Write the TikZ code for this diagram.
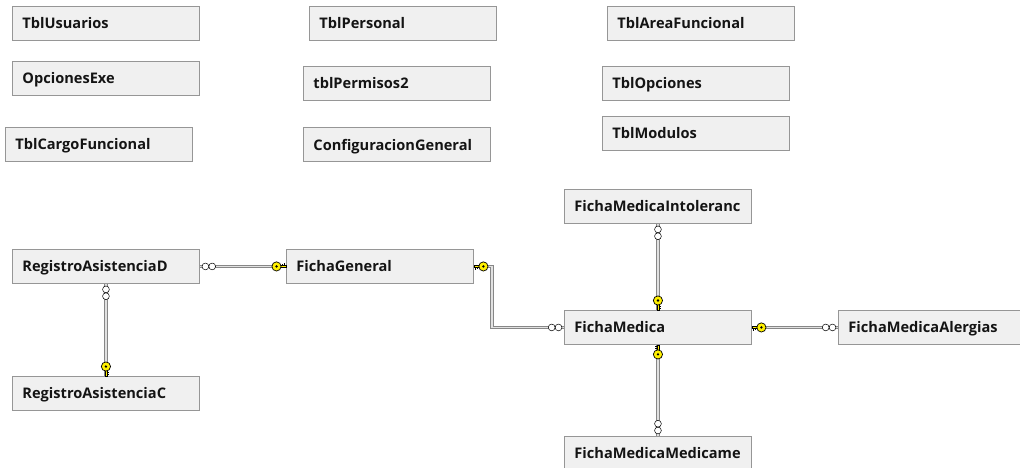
\documentclass[tikz,border=0pt]{standalone}
\usepackage{fontspec}
\setmainfont{Open Sans}
\definecolor{boxfill}{RGB}{240,240,240}
\definecolor{boxline}{RGB}{150,150,150}
\definecolor{txt}{RGB}{20,20,20}
\definecolor{keyyel}{RGB}{255,240,0}
\definecolor{relline}{RGB}{135,135,135}
\definecolor{relin}{RGB}{225,225,225}
\begin{document}
\begin{tikzpicture}[x=1pt,y=1pt,
  tbl/.style={draw=boxline,fill=boxfill,line width=0.9pt,anchor=north west,
    text width=167pt,align=left,inner xsep=10pt,inner ysep=0pt,minimum height=34pt,
    text depth=0pt,
    font=\fontsize{14.6}{16}\selectfont\bfseries,text=txt},
  rel/.style={draw=relline,line width=0.8pt,double=relin,double distance=1.6pt},
  keyend/.pic={
    \draw[fill=keyyel,draw=black,line width=0.5pt] (0,-1.2) rectangle (6,1.2);
    \draw[black,line width=0.7pt] (1.5,-1.2) -- (1.5,-3.2) (3.5,-1.2) -- (3.5,-2.7);
    \draw[fill=keyyel,draw=black,line width=0.7pt] (9.5,0) circle (4.6);
    \fill[black] (9.5,0) circle (1.3);
  },
  manyend/.pic={
    \draw[fill=white,draw=black,line width=0.5pt] (5.5,0) circle (3.4);
    \draw[fill=white,draw=black,line width=0.5pt] (12.3,0) circle (3.4);
  }]
\useasboundingbox (0,0) rectangle (1020,-468);
\fill[white] (0,0) rectangle (1020,-468);

% tables
\node[tbl] (usu) at (12,-6) {TblUsuarios};
\node[tbl] (opx) at (12,-61) {OpcionesExe};
\node[tbl] (car) at (5,-127) {TblCargoFuncional};
\node[tbl] (per) at (309,-6) {TblPersonal};
\node[tbl] (prm) at (303,-66) {tblPermisos2};
\node[tbl] (cfg) at (303,-127) {ConfiguracionGeneral};
\node[tbl] (are) at (607,-6) {TblAreaFuncional};
\node[tbl] (opc) at (602,-66) {TblOpciones};
\node[tbl] (mod) at (602,-116) {TblModulos};
\node[tbl] (fmi) at (564,-189) {FichaMedicaIntoleranc};
\node[tbl] (rd) at (12,-249) {RegistroAsistenciaD};
\node[tbl] (fg) at (286,-249) {FichaGeneral};
\node[tbl] (fm) at (564,-310) {FichaMedica};
\node[tbl] (fma) at (838,-310) {FichaMedicaAlergias};
\node[tbl] (rc) at (12,-376) {RegistroAsistenciaC};
\node[tbl] (fmm) at (564,-436) {FichaMedicaMedicame};

% relations
\draw[rel] (rd.east) -- (fg.west);
\draw[rel] (fg.east) -- ++(18,0) |- (fm.west);
\draw[rel] (rd.south) -- (rc.north);
\draw[rel] (fmi.south) -- (fm.north);
\draw[rel] (fm.south) -- (fmm.north);
\draw[rel] (fm.east) -- (fma.west);

% ends
\pic at (rd.east) {manyend};
\pic[rotate=180] at (fg.west) {keyend};
\pic at (fg.east) {keyend};
\pic[rotate=180] at (fm.west) {manyend};
\pic[rotate=-90] at (rd.south) {manyend};
\pic[rotate=90] at (rc.north) {keyend};
\pic[rotate=-90] at (fmi.south) {manyend};
\pic[rotate=90] at (fm.north) {keyend};
\pic[rotate=-90] at (fm.south) {keyend};
\pic[rotate=90] at (fmm.north) {manyend};
\pic at (fm.east) {keyend};
\pic[rotate=180] at (fma.west) {manyend};
\end{tikzpicture}
\end{document}
